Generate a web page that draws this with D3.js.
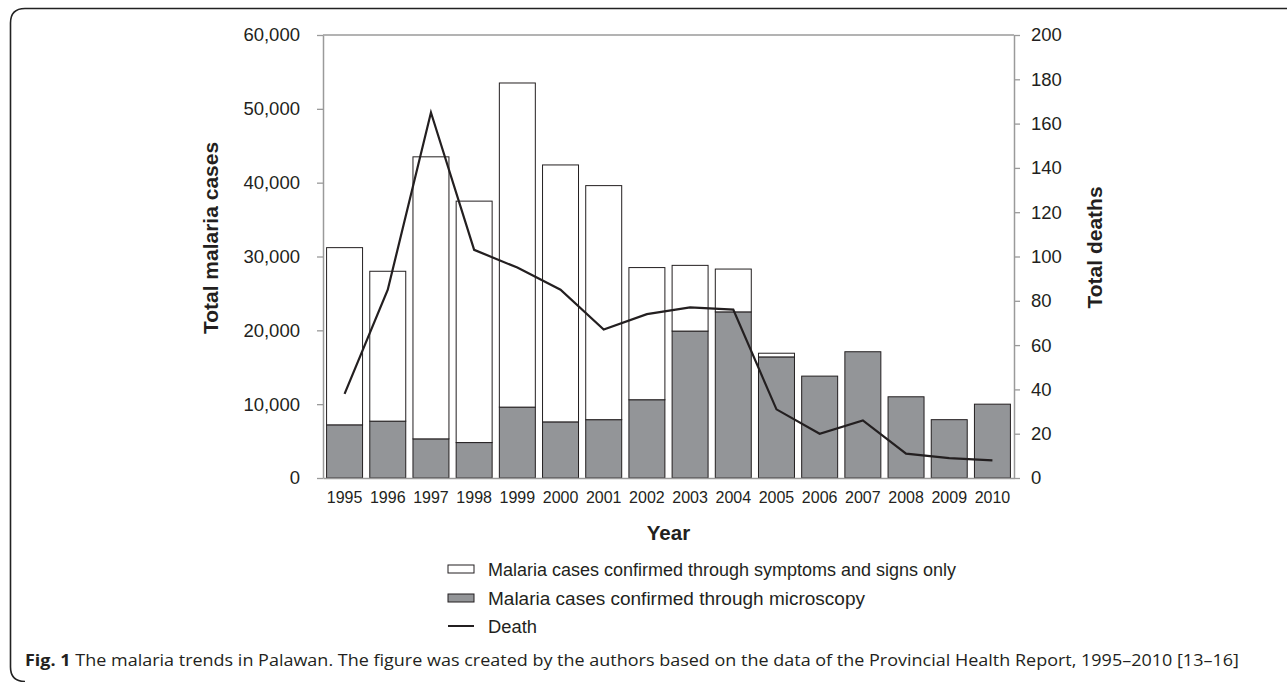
<!DOCTYPE html>
<html>
<head>
<meta charset="utf-8">
<script src="https://cdn.jsdelivr.net/npm/d3@7"></script>
<style>
  body { margin: 0; background: #fff; }
  svg { display: block; }
  text { font-family: "Liberation Sans", Arial, sans-serif; fill: #231f20; }
</style>
</head>
<body>
<div id="chart"></div>
<script>
// values
const years = ["1995", "1996", "1997", "1998", "1999", "2000", "2001", "2002",
               "2003", "2004", "2005", "2006", "2007", "2008", "2009", "2010"];
const microscopy = [7200, 7700, 5300, 4800, 9600, 7600, 7900, 10600,
                    19900, 22500, 16400, 13800, 17100, 11000, 7900, 10000];
const symptomsOnly = [24000, 20300, 38200, 32700, 43900, 34800, 31700, 17900,
                      8900, 5800, 500, 0, 0, 0, 0, 0];
const deaths = [38, 85, 165, 103, 95, 85, 67, 74, 77, 76, 31, 20, 26, 11, 9, 8];
const caseTicks = [0, 10000, 20000, 30000, 40000, 50000, 60000];
const deathTicks = [0, 20, 40, 60, 80, 100, 120, 140, 160, 180, 200];
const legendLabels = [
    "Malaria cases confirmed through symptoms and signs only",
    "Malaria cases confirmed through microscopy",
    "Death"
];

const width = 1287, height = 682;
const margin = {top: 35, right: 273, bottom: 204, left: 323};
const innerW = width - margin.left - margin.right;
const innerH = height - margin.top - margin.bottom;

const axisGrey = "#9a9a9a";
const barGrey = "#939598";
const dark = "#231f20";

const svg = d3.select("#chart")
    .append("svg")
    .attr("width", width)
    .attr("height", height);

// outer frame: top edge and left edge with rounded corners
svg.append("path")
    .attr("d", "M1287,8.5 H25 Q10.5,8.5 10.5,23 V667 Q10.5,681.5 25,681.5")
    .attr("fill", "none")
    .attr("stroke", "#222")
    .attr("stroke-width", 1.6);

const g = svg.append("g")
    .attr("transform", "translate(" + margin.left + "," + margin.top + ")");

const x = d3.scaleBand()
    .domain(years)
    .range([0, innerW])
    .paddingInner(0.167)
    .paddingOuter(0.083);

const yCases = d3.scaleLinear()
    .domain([0, 60000])
    .range([innerH, 0]);

const yDeaths = d3.scaleLinear()
    .domain([0, 200])
    .range([innerH, 0]);

// bars: microscopy (grey) at the bottom, symptoms-only (white) stacked above
const bars = g.append("g");
bars.selectAll("rect.micro")
    .data(years)
    .enter()
    .append("rect")
    .attr("class", "micro")
    .attr("x", d => x(d))
    .attr("width", x.bandwidth())
    .attr("y", (d, i) => yCases(microscopy[i]))
    .attr("height", (d, i) => yCases(0) - yCases(microscopy[i]))
    .attr("fill", barGrey)
    .attr("stroke", dark)
    .attr("stroke-width", 1);

bars.selectAll("rect.sympt")
    .data(years.filter((d, i) => symptomsOnly[i] > 0))
    .enter()
    .append("rect")
    .attr("class", "sympt")
    .attr("x", d => x(d))
    .attr("width", x.bandwidth())
    .attr("y", d => {
        let i = years.indexOf(d);
        return yCases(microscopy[i] + symptomsOnly[i]);
    })
    .attr("height", d => {
        let i = years.indexOf(d);
        return yCases(microscopy[i]) - yCases(microscopy[i] + symptomsOnly[i]);
    })
    .attr("fill", "#fff")
    .attr("stroke", dark)
    .attr("stroke-width", 1);

// axes
const leftAxis = g.append("g")
    .call(d3.axisLeft(yCases).tickValues(caseTicks).tickFormat(d3.format(","))
        .tickSize(6).tickSizeOuter(0).tickPadding(17));

const rightAxis = g.append("g")
    .attr("transform", "translate(" + innerW + ",0)")
    .call(d3.axisRight(yDeaths).tickValues(deathTicks)
        .tickSize(6).tickSizeOuter(0).tickPadding(11));

const bottomAxis = g.append("g")
    .attr("transform", "translate(0," + innerH + ")")
    .call(d3.axisBottom(x).tickSize(0).tickPadding(13.5));

[leftAxis, rightAxis].forEach(a => {
    a.selectAll("text").style("font-size", "18.5px").attr("fill", dark);
    a.selectAll("line").attr("stroke", axisGrey).attr("stroke-width", 1.3);
    a.select(".domain").attr("stroke", axisGrey).attr("stroke-width", 1.5);
});
bottomAxis.selectAll("text").style("font-size", "16px").attr("fill", dark);
bottomAxis.select(".domain").attr("stroke", axisGrey).attr("stroke-width", 1.5);

g.append("line")
    .attr("x1", 0).attr("x2", innerW)
    .attr("y1", 0).attr("y2", 0)
    .attr("stroke", axisGrey)
    .attr("stroke-width", 1.5);

// deaths line
const line = d3.line()
    .x((d, i) => x(years[i]) + x.bandwidth() / 2)
    .y(d => yDeaths(d));

g.append("path")
    .datum(deaths)
    .attr("d", line)
    .attr("fill", "none")
    .attr("stroke", dark)
    .attr("stroke-width", 2.2)
    .attr("stroke-linejoin", "miter");

// axis titles
svg.append("text")
    .attr("transform", "translate(218,238) rotate(-90)")
    .attr("text-anchor", "middle")
    .style("font-size", "21px")
    .style("font-weight", "bold")
    .text("Total malaria cases");

svg.append("text")
    .attr("transform", "translate(1101.5,247.5) rotate(-90)")
    .attr("text-anchor", "middle")
    .style("font-size", "21px")
    .style("font-weight", "bold")
    .text("Total deaths");

svg.append("text")
    .attr("x", margin.left + innerW / 2)
    .attr("y", 540)
    .attr("text-anchor", "middle")
    .style("font-size", "20.5px")
    .style("font-weight", "bold")
    .text("Year");

// legend
const legend = svg.append("g").attr("transform", "translate(448,0)");
const rowY = [569, 598, 626];
const legendWidths = [468, 377, 49];

legend.append("rect")
    .attr("x", 0).attr("y", rowY[0] - 4).attr("width", 26).attr("height", 8)
    .attr("fill", "#fff").attr("stroke", dark).attr("stroke-width", 1);
legend.append("rect")
    .attr("x", 0).attr("y", rowY[1] - 4).attr("width", 26).attr("height", 8)
    .attr("fill", barGrey).attr("stroke", dark).attr("stroke-width", 1);
legend.append("line")
    .attr("x1", 0).attr("x2", 26).attr("y1", rowY[2]).attr("y2", rowY[2])
    .attr("stroke", dark).attr("stroke-width", 2);

legend.selectAll("text.lab")
    .data(legendLabels)
    .enter()
    .append("text")
    .attr("class", "lab")
    .attr("x", 40)
    .attr("y", (d, i) => rowY[i] + 6.5)
    .attr("textLength", (d, i) => legendWidths[i])
    .attr("lengthAdjust", "spacingAndGlyphs")
    .style("font-size", "17.5px")
    .text(d => d);

// caption, squeezed to the width it has in the figure
const caption = svg.append("text")
    .attr("x", 0)
    .attr("y", 0)
    .style("font-family", "'Open Sans', 'Noto Sans', sans-serif")
    .style("font-size", "15.5px");
caption.append("tspan")
    .style("font-weight", "bold")
    .text("Fig. 1");
caption.append("tspan")
    .text(" The malaria trends in Palawan. The figure was created by the authors based on the data of the Provincial Health Report, 1995\u20132010 [13\u201316]");

const capW = caption.node().getComputedTextLength();
const sx = 1215 / capW;
caption.attr("transform", "translate(25,666) scale(" + sx + ",1)");
</script>
</body>
</html>
